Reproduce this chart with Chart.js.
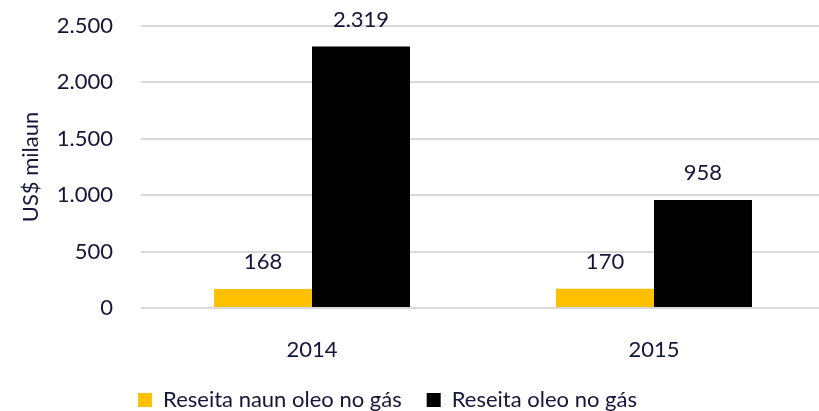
<!DOCTYPE html>
<html>
<head>
<meta charset="utf-8">
<script src="https://cdn.jsdelivr.net/npm/chart.js@4"></script>
<style>
  html, body { margin: 0; padding: 0; background: #fff; overflow: hidden; }
  #wrap { width: 825px; height: 411px; }
</style>
</head>
<body>
<div id="wrap"><canvas id="chart"></canvas></div>
<script>
const years = ['2014', '2015'];
const naunOleo = [168, 170];
const oleo = [2319, 958];
const seriesNames = ['Reseita naun oleo no gás', 'Reseita oleo no gás'];
const yTicks = [0, 500, 1000, 1500, 2000, 2500];

const textColor = '#15153a';
const fontFamily = 'Lato, "Open Sans", sans-serif';

// 2319 -> "2.319"
function fmt(n) {
    return String(n).replace(/\B(?=(\d{3})+(?!\d))/g, '.');
}

const valueLabels = {
    id: 'valueLabels',
    afterDatasetsDraw(chart) {
        const ctx = chart.ctx;
        ctx.save();
        ctx.fillStyle = textColor;
        ctx.font = '22px ' + fontFamily;
        ctx.textAlign = 'center';
        ctx.textBaseline = 'middle';
        chart.data.datasets.forEach((ds, i) => {
            chart.getDatasetMeta(i).data.forEach((bar, j) => {
                ctx.fillText(fmt(ds.data[j]), bar.x, bar.y - 27);
            });
        });
        ctx.restore();
    }
};

// legend in the original sits a little left of centre
const legendShift = {
    id: 'legendShift',
    afterLayout(chart) {
        const lg = chart.legend;
        if (!lg) return;
        lg.left -= 25; lg.right -= 25;
    }
};

new Chart(document.getElementById('chart'), {
    type: 'bar',
    data: {
        labels: years,
        datasets: [
            { label: seriesNames[0], data: naunOleo, backgroundColor: '#ffc000' },
            { label: seriesNames[1], data: oleo, backgroundColor: '#000000' }
        ]
    },
    options: {
        responsive: true,
        maintainAspectRatio: false,
        animation: false,
        layout: { padding: { top: 26, right: 0, bottom: -10, left: 0 } },
        datasets: { bar: { categoryPercentage: 0.573, barPercentage: 1 } },
        scales: {
            x: {
                grid: { display: false },
                border: { display: false },
                ticks: { color: textColor, font: { family: fontFamily, size: 22 }, padding: 21 },
                afterFit(scale) { scale.height = 56; }
            },
            y: {
                min: 0,
                max: 2500,
                afterBuildTicks(scale) { scale.ticks = yTicks.map(v => ({ value: v })); },
                grid: { color: '#d9d9d9', lineWidth: 2, drawTicks: false },
                border: { display: false },
                ticks: {
                    color: textColor,
                    font: { family: fontFamily, size: 22 },
                    padding: 28,
                    callback: v => fmt(v)
                },
                title: {
                    display: true,
                    text: 'US$ milaun',
                    color: textColor,
                    font: { family: fontFamily, size: 22 },
                    padding: { top: 18, bottom: 0 }
                },
                afterFit(scale) {
                    scale.width = 141;
                    scale.paddingTop = 0;
                    scale.paddingBottom = 0;
                }
            }
        },
        plugins: {
            legend: {
                position: 'bottom',
                labels: {
                    color: textColor,
                    font: { family: fontFamily, size: 22 },
                    boxWidth: 14,
                    boxHeight: 14,
                    padding: 25
                }
            },
            tooltip: { enabled: false }
        }
    },
    plugins: [valueLabels, legendShift]
});
</script>
</body>
</html>
